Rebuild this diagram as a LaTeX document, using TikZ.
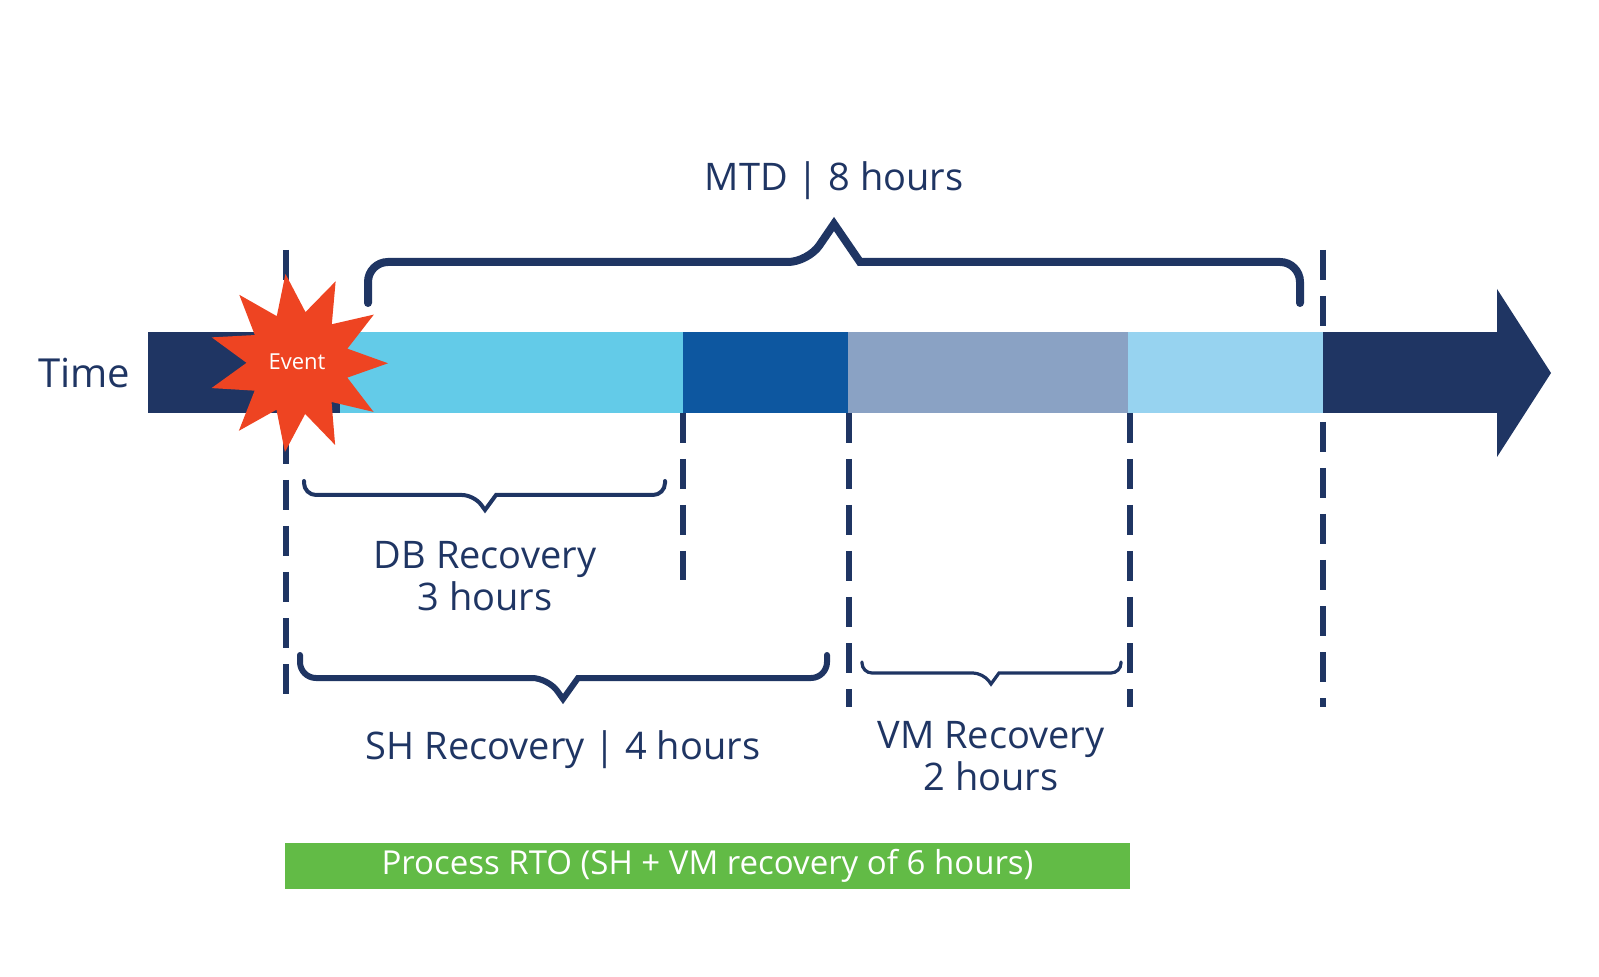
\documentclass[tikz,border=0pt]{standalone}
\usepackage{fontspec}
\setmainfont{Open Sans}
\usetikzlibrary{shapes.geometric}
\definecolor{navy}{HTML}{1F3563}
\definecolor{cyanA}{HTML}{63CBE8}
\definecolor{blueB}{HTML}{0D57A0}
\definecolor{greyC}{HTML}{8AA2C4}
\definecolor{lightD}{HTML}{97D3F0}
\definecolor{burst}{HTML}{EE4422}
\definecolor{greenE}{HTML}{62BB46}
\begin{document}
\begin{tikzpicture}[x=0.5pt,y=-0.5pt,
  vdash/.style={navy,line width=3pt,dash pattern=on 15pt off 8pt},
  brace/.style={navy,rounded corners=10pt,line cap=round,line join=miter},
  lbl/.style={navy,font=\fontsize{19}{21}\selectfont,align=center}]
% arrow
\fill[navy] (148,332) rectangle (1497,413);
\fill[navy] (1497,289) -- (1551,373) -- (1497,457) -- cycle;
\fill[cyanA] (340,332) rectangle (683,413);
\fill[blueB] (683,332) rectangle (848,413);
\fill[greyC] (848,332) rectangle (1128,413);
\fill[lightD] (1128,332) rectangle (1323,413);
% dashed lines
\draw[vdash] (286,250) -- (286,707);
\draw[vdash] (683,413) -- (683,580);
\draw[vdash] (849,413) -- (849,707);
\draw[vdash] (1130,413) -- (1130,707);
\draw[vdash] (1323,250) -- (1323,332);
\draw[vdash] (1323,422) -- (1323,707);
% event
\node[star,star points=11,star point ratio=1.75,fill=burst,minimum size=90pt,inner sep=0pt,rotate=8] (ev) at (298,363) {};
\node[text=white,font=\fontsize{11}{13}\selectfont] (evt) at (297,362) {Event};
\node[lbl,font=\fontsize{20}{22}\selectfont] (time) at (84,373) {Time};
% MTD brace
\draw[brace,line width=4pt] (368,303) -- (368,262) -- (808,262) [sharp corners] -- (834,224) -- (860,262) [rounded corners=10pt] -- (1300,262) -- (1300,303);
\node[lbl] (mtd) at (834,181) {MTD | 8 hours};
% DB brace
\draw[brace,line width=2pt,rounded corners=6pt] (304,481) -- (304,495) -- (474,495) [sharp corners] -- (485,510) -- (496,495) [rounded corners=6pt] -- (665,495) -- (665,481);
\node[lbl] (db) at (485,576) {DB Recovery\\3 hours};
% SH brace
\draw[brace,line width=3pt,rounded corners=8pt] (300,655) -- (300,678) -- (548,678) [sharp corners] -- (563,699) -- (578,678) [rounded corners=8pt] -- (827,678) -- (827,655);
\node[lbl] (sh) at (563,750) {SH Recovery | 4 hours};
% VM brace
\draw[brace,line width=1.6pt,rounded corners=5pt] (862,662) -- (862,673) -- (983,673) [sharp corners] -- (991,684) -- (999,673) [rounded corners=5pt] -- (1121,673) -- (1121,662);
\node[lbl] (vm) at (991,756) {VM Recovery\\2 hours};
% RTO
\node[fill=greenE,minimum width=422.5pt,minimum height=23pt,inner sep=0pt,text=white,font=\fontsize{16.5}{18}\selectfont] (rto) at (707.5,866) {Process RTO (SH + VM recovery of 6 hours)};
\pgfresetboundingbox
\path[use as bounding box] (0,0) rectangle (1599,977);
\end{tikzpicture}
\end{document}
